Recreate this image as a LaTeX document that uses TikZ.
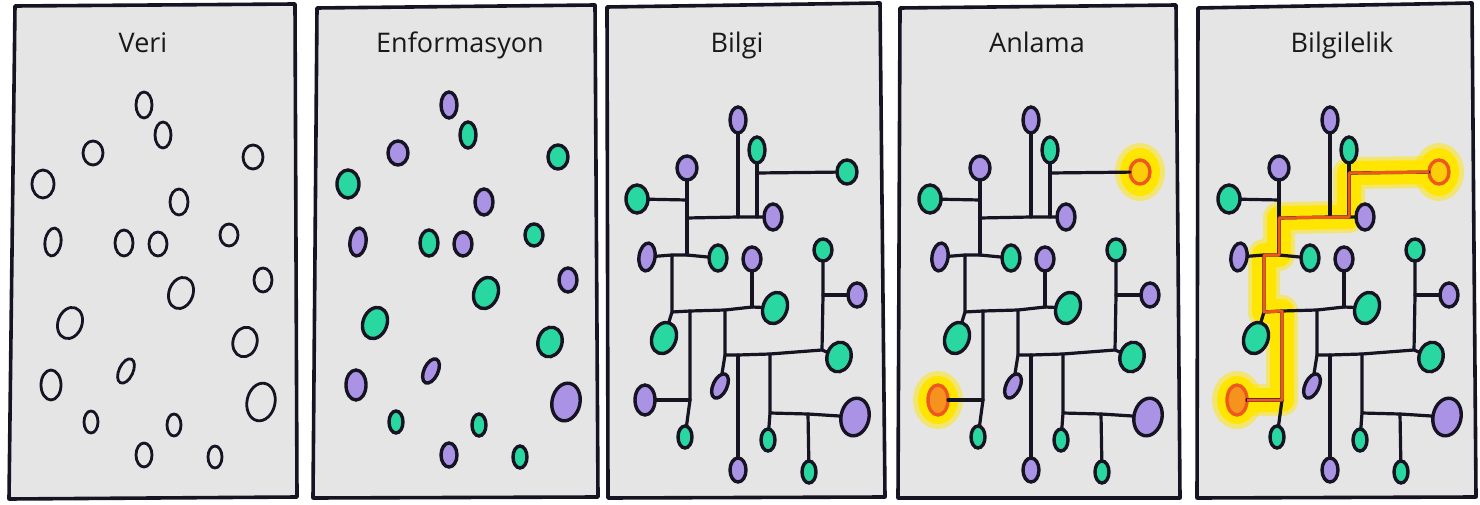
\documentclass[tikz,border=0pt]{standalone}
\usepackage{fontspec}
\setmainfont{Open Sans}
\usetikzlibrary{shapes.geometric}
\definecolor{paper}{RGB}{229,229,229}
\definecolor{mint}{RGB}{40,216,160}
\definecolor{lav}{RGB}{170,146,228}
\definecolor{ink}{RGB}{22,20,34}
\definecolor{sunny}{RGB}{255,230,0}
\definecolor{ember}{RGB}{246,146,30}
\definecolor{flame}{RGB}{238,88,32}
\pgfdeclarelayer{frames}
\pgfdeclarelayer{glow}
\pgfsetlayers{frames,glow,main}
\tikzset{
  panel/.style={draw=ink,fill=paper,line width=3.6pt,line join=round},
  title/.style={font=\fontsize{27}{32}\selectfont,text=black!90,anchor=base,inner sep=0pt},
  blob/.style={ellipse,draw=ink,line width=3.4pt,inner sep=0pt,outer sep=0pt},
  gr/.style={fill=mint},
  pu/.style={fill=lav},
  link/.style={draw=ink,line width=3.2pt,line cap=round,line join=round},
  ring/.style={draw=flame,fill=sunny!70!ember},
  hot/.style={draw=flame,fill=ember},
  halo/.style={fill=sunny},
  haze/.style={fill=sunny,opacity=.5},
  glowline/.style={draw=sunny,line width=24pt,line join=round,line cap=round},
  glowhaze/.style={draw=sunny,opacity=.5,line width=32pt,line join=round,line cap=round},
  trail/.style={draw=flame,line width=3pt,line join=round},
}
% the 21 dots, in the coordinates of the third panel
\newcommand{\netdots}{%
  \foreach \n/\x/\y/\c/\w/\h/\r in {1/131/115/pu/8/13/0, 2/150/145/gr/8/13/0,
      3/80/163/pu/10/12/0, 4/240/167/gr/10/12/0, 5/30/194/gr/11/14/0,
      6/166/212/pu/9/13/0, 7/40/252/pu/8/14/-8, 8/111/253/gr/9/13/0,
      9/145/254/pu/9/12/0, 10/216/245/gr/9/11/0, 11/168/303/gr/12/16/-20,
      12/250/290/pu/9/12/0, 13/57/333/gr/12/16/-20, 14/232/352/gr/12/15/-15,
      15/38/395/pu/10/15/0, 16/113/381/pu/7/13/-25, 17/248/412/pu/14/19/-12,
      18/78/432/gr/7/11/0, 19/161/435/gr/7/11/0, 20/131/465/pu/8/12/0,
      21/202/467/gr/7/11/0}
    \node[blob,\c,spot\n/.try,minimum width=2*\w pt,minimum height=2*\h pt,rotate=\r] (d\n) at (\x,\y) {};
}
% junctions and links of the network
\newcommand{\netlinks}{%
  \coordinate (j1) at (131,212);  \coordinate (j2) at (150,212);
  \coordinate (j3) at (150,168);  \coordinate (ja) at (80,213);
  \coordinate (j4) at (80,195);   \coordinate (j5) at (80,250);
  \coordinate (j6) at (65,250);   \coordinate (j7) at (65,307);
  \coordinate (j8) at (83,306);   \coordinate (j9) at (118,305);
  \coordinate (j10) at (145,302); \coordinate (j11) at (83,395);
  \coordinate (j12) at (118,350); \coordinate (j13) at (131,350);
  \coordinate (j14) at (163,349); \coordinate (j15) at (215,345);
  \coordinate (j16) at (216,290); \coordinate (j17) at (163,408);
  \coordinate (j18) at (201,409);
  \draw[link] (d1)--(j1); \draw[link] (ja)--(j1)--(j2)--(d6);
  \draw[link] (d2)--(j3)--(j2); \draw[link] (j3)--(d4);
  \draw[link] (d3)--(j4)--(ja)--(j5); \draw[link] (d5)--(j4);
  \draw[link] (d7)--(j6)--(j5)--(d8); \draw[link] (j6)--(j7)--(d13);
  \draw[link] (j7)--(j8)--(j9)--(j10)--(d11); \draw[link] (d9)--(j10);
  \draw[link] (j8)--(j11)--(d18); \draw[link] (d15)--(j11);
  \draw[link] (j9)--(j12)--(d16);
  \draw[link] (j12)--(j13)--(j14)--(j15)--(d14);
  \draw[link] (d10)--(j16)--(j15); \draw[link] (j16)--(d12);
  \draw[link] (j13)--(d20); \draw[link] (j14)--(j17)--(d19);
  \draw[link] (j17)--(j18)--(d17); \draw[link] (j18)--(d21);
}
\newcommand{\netglow}{%
  \begin{pgfonlayer}{glow}
    \fill[haze] (d4) ellipse [x radius=25, y radius=29];
    \fill[haze] (d15) ellipse [x radius=25, y radius=29];
    \fill[halo] (d4) ellipse [x radius=20, y radius=24];
    \fill[halo] (d15) ellipse [x radius=20, y radius=24];
  \end{pgfonlayer}
}
\begin{document}
\begin{tikzpicture}[x=1pt,y=-1pt]
  \useasboundingbox (0,0) rectangle (1480,505);
  \begin{pgfonlayer}{frames}
    \fill[white] (0,0) rectangle (1480,505);
    \draw[panel] (15,6)--(295,4)--(297,497)--(9,499)--cycle;
    \draw[panel] (317,8)--(595,5)--(598,497)--(313,498)--cycle;
    \draw[panel] (607,7)--(880,3)--(885,497)--(608,498)--cycle;
    \draw[panel] (900,8)--(1176,5)--(1180,498)--(898,498)--cycle;
    \draw[panel] (1198,8)--(1472,3)--(1476,497)--(1197,498)--cycle;
  \end{pgfonlayer}
  \node[title] (tveri) at (143,53) {Veri};
  \node[title] (tenf) at (460,53) {Enformasyon};
  \node[title] (tbil) at (737,53) {Bilgi};
  \node[title] (tanl) at (1037,53) {Anlama};
  \node[title] (tbgl) at (1342,53) {Bilgilelik};
  % Veri
  \begin{scope}[shift={(13,-10)},name prefix=a-,gr/.style={fill=paper},pu/.style={fill=paper},blob/.append style={line width=2.8pt}]
    \netdots
  \end{scope}
  % Enformasyon
  \begin{scope}[shift={(318,-10)},name prefix=b-]
    \netdots
  \end{scope}
  % Bilgi
  \begin{scope}[shift={(607,5)},name prefix=c-]
    \netdots \netlinks
  \end{scope}
  % Anlama
  \begin{scope}[shift={(900,5)},name prefix=e-,spot4/.style={ring},spot15/.style={hot}]
    \netdots \netlinks \netglow
  \end{scope}
  % Bilgilelik
  \begin{scope}[shift={(1199,5)},name prefix=f-,spot4/.style={ring},spot15/.style={hot}]
    \netdots \netlinks \netglow
    \begin{pgfonlayer}{glow}
      \draw[glowhaze] (d15.center)--(j11)--(j8)--(j7)--(j6)--(j5)--(ja)--(j2)--(j3)--(d4.center);
      \draw[glowline] (d15.center)--(j11)--(j8)--(j7)--(j6)--(j5)--(ja)--(j2)--(j3)--(d4.center);
    \end{pgfonlayer}
    \draw[trail] (d15)--(j11)--(j8)--(j7)--(j6)--(j5)--(ja)--(j2)--(j3)--(d4);
  \end{scope}
\end{tikzpicture}
\end{document}
